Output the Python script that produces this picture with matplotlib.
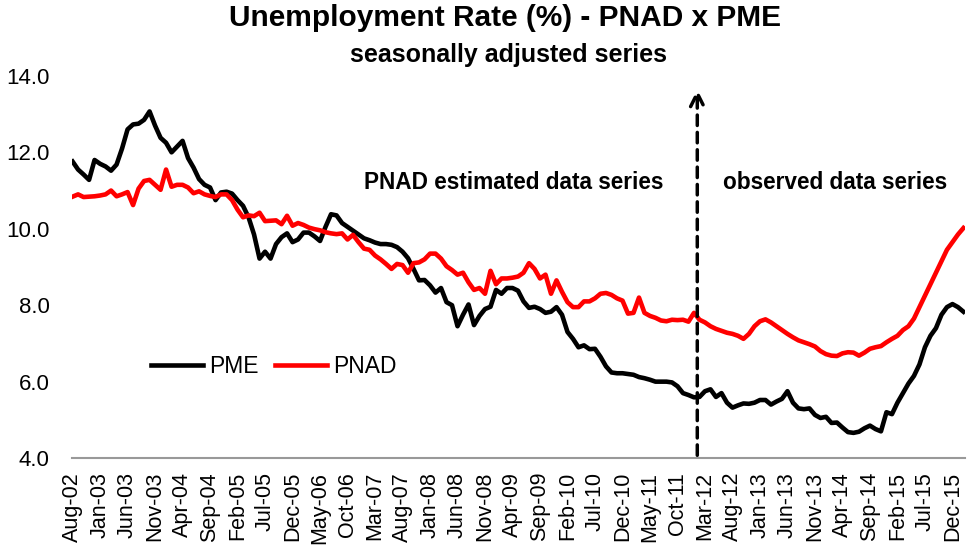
import numpy as np
import pandas as pd
import matplotlib
matplotlib.use("Agg")
import matplotlib.pyplot as plt

plt.rcParams['font.family'] = ['Liberation Sans', 'DejaVu Sans']

# monthly series, Aug-02 .. Feb-16
meses = pd.date_range('2002-08-01', periods=163, freq='MS')
rotulos = [d.strftime('%b-%y') for d in meses]

pme = [11.76, 11.55, 11.42, 11.28, 11.8, 11.7, 11.63, 11.52, 11.68, 12.1,
       12.6, 12.73, 12.75, 12.85, 13.07, 12.7, 12.38, 12.25, 12.0, 12.15,
       12.3, 11.85, 11.6, 11.3, 11.15, 11.08, 10.75, 10.95, 10.97, 10.92,
       10.75, 10.6, 10.3, 9.85, 9.22, 9.4, 9.22, 9.6, 9.78, 9.88,
       9.65, 9.72, 9.9, 9.9, 9.8, 9.68, 10.05, 10.38, 10.35, 10.15,
       10.05, 9.95, 9.85, 9.75, 9.7, 9.64, 9.6, 9.6, 9.58, 9.52,
       9.4, 9.23, 8.95, 8.65, 8.66, 8.52, 8.33, 8.45, 8.08, 8.0,
       7.45, 7.75, 8.02, 7.48, 7.72, 7.9, 7.96, 8.4, 8.3, 8.45,
       8.45, 8.38, 8.1, 7.93, 7.96, 7.9, 7.8, 7.83, 7.95, 7.75,
       7.3, 7.12, 6.9, 6.95, 6.85, 6.86, 6.65, 6.4, 6.24, 6.22,
       6.22, 6.2, 6.18, 6.12, 6.09, 6.05, 6.0, 6.0, 6.0, 5.98,
       5.88, 5.7, 5.65, 5.59, 5.6, 5.75, 5.8, 5.6, 5.7, 5.45,
       5.32, 5.38, 5.43, 5.42, 5.45, 5.52, 5.52, 5.4, 5.48, 5.55,
       5.75, 5.45, 5.3, 5.28, 5.3, 5.13, 5.05, 5.08, 4.92, 4.93,
       4.8, 4.68, 4.66, 4.69, 4.78, 4.85, 4.76, 4.7, 5.2, 5.15,
       5.45, 5.7, 5.95, 6.15, 6.45, 6.9, 7.2, 7.4, 7.75, 7.95,
       8.03, 7.95, 7.83]

pnad = [10.84, 10.9, 10.83, 10.84, 10.85, 10.87, 10.9, 11.0, 10.85, 10.9,
        10.96, 10.62, 11.05, 11.25, 11.28, 11.15, 11.02, 11.55, 11.1, 11.15,
        11.15, 11.08, 10.93, 10.98, 10.9, 10.86, 10.83, 10.9, 10.9, 10.75,
        10.5, 10.3, 10.35, 10.33, 10.42, 10.2, 10.21, 10.22, 10.12, 10.34,
        10.08, 10.15, 10.1, 10.03, 9.99, 9.96, 9.91, 9.88, 9.86, 9.88,
        9.72, 9.84, 9.65, 9.48, 9.45, 9.3, 9.2, 9.08, 8.95, 9.08,
        9.05, 8.85, 9.1, 9.12, 9.2, 9.35, 9.35, 9.22, 9.02, 8.92,
        8.8, 8.85, 8.6, 8.4, 8.45, 8.3, 8.9, 8.55, 8.7, 8.7,
        8.72, 8.75, 8.85, 9.1, 8.95, 8.7, 8.8, 8.3, 8.65, 8.35,
        8.08, 7.95, 7.95, 8.1, 8.1, 8.18, 8.3, 8.32, 8.27, 8.18,
        8.12, 7.78, 7.8, 8.2, 7.8, 7.72, 7.67, 7.6, 7.58, 7.62,
        7.61, 7.62, 7.57, 7.8, 7.62, 7.55, 7.45, 7.38, 7.33, 7.28,
        7.25, 7.2, 7.12, 7.25, 7.45, 7.58, 7.63, 7.55, 7.45, 7.35,
        7.25, 7.16, 7.08, 7.03, 6.98, 6.92, 6.8, 6.72, 6.68, 6.67,
        6.74, 6.77, 6.76, 6.68, 6.76, 6.86, 6.9, 6.93, 7.03, 7.12,
        7.2, 7.35, 7.45, 7.65, 7.95, 8.25, 8.55, 8.85, 9.15, 9.45,
        9.65, 9.85, 10.02]

x = np.arange(len(meses))
corte = 113.6   # start of the observed PNAD series

fig = plt.figure(figsize=(9.68, 5.46), dpi=100)
ax = fig.add_axes([0.0744, 0.161, 0.9226, 0.70])

ax.plot(x, pme, color='black', lw=3.3, label='PME', solid_joinstyle='round')
ax.plot(x, pnad, color='#ff0000', lw=3.3, label='PNAD', solid_joinstyle='round')

ax.annotate('', xy=(corte, 13.72), xytext=(corte, 4.0),
            arrowprops=dict(arrowstyle='->', color='black', lw=2.5,
                            linestyle=(0, (3, 2)), mutation_scale=24))

ax.text(80.2, 11.2, 'PNAD estimated data series', ha='center', va='center',
        fontsize=16.3, fontweight='bold')
ax.text(138.7, 11.2, 'observed data series', ha='center', va='center',
        fontsize=16.3, fontweight='bold')

ax.set_xlim(-0.1, 162.3)
ax.set_ylim(4, 14)
ax.set_yticks(np.arange(4, 14.1, 2))
ax.set_yticklabels([f'{v:.1f}' for v in np.arange(4, 14.1, 2)], fontsize=16)
ax.set_xticks(x[::5])
ax.set_xticklabels(rotulos[::5], rotation=90, fontsize=15.5)
ax.tick_params(axis='x', length=0, pad=10)
ax.tick_params(axis='y', length=0, pad=16)

for lado in ['top', 'right', 'left']:
    ax.spines[lado].set_visible(False)
ax.spines['bottom'].set_color('#999999')
ax.spines['bottom'].set_linewidth(1.5)

ax.legend(loc='center left', bbox_to_anchor=(0.065, 0.24), ncol=2,
          frameon=False, fontsize=16.5, handlelength=2.3, handletextpad=0.25,
          columnspacing=0.7)

fig.text(0.522, 0.967, 'Unemployment Rate (%) - PNAD x PME', ha='center',
         va='center', fontsize=21.5, fontweight='bold')
fig.text(0.525, 0.899, 'seasonally adjusted series', ha='center',
         va='center', fontsize=18, fontweight='bold')

fig.savefig('out.png', dpi=100)
